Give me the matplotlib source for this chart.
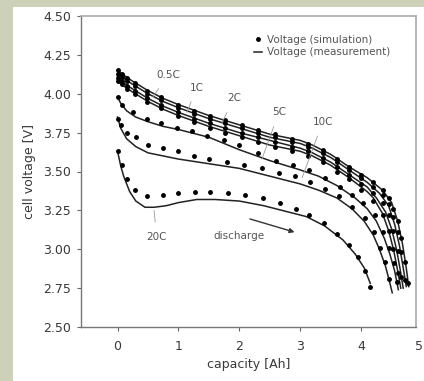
import matplotlib
matplotlib.use('Agg')
import matplotlib.pyplot as plt
from matplotlib.patches import Rectangle
from matplotlib.lines import Line2D
from matplotlib.transforms import offset_copy

plt.rcParams['font.family'] = ['DejaVu Sans']

# measured discharge curves (capacity [Ah], voltage [V])
cap_05c = [0, 0.1, 0.25, 0.5, 0.75, 1.0, 1.5, 2.0, 2.5, 3.0, 3.2, 3.5, 3.8, 4.1, 4.35, 4.5, 4.6, 4.68, 4.74, 4.78]
v_05c = [4.15, 4.12, 4.08, 4.02, 3.97, 3.93, 3.86, 3.80, 3.74, 3.70, 3.67, 3.61, 3.53, 3.46, 3.38, 3.30, 3.18, 3.03, 2.88, 2.76]
cap_1c = [0, 0.1, 0.25, 0.5, 0.75, 1.0, 1.5, 2.0, 2.5, 3.0, 3.2, 3.5, 3.8, 4.1, 4.3, 4.45, 4.55, 4.63, 4.69, 4.74]
v_1c = [4.13, 4.10, 4.06, 4.00, 3.95, 3.91, 3.84, 3.78, 3.72, 3.68, 3.65, 3.59, 3.51, 3.43, 3.36, 3.28, 3.16, 3.02, 2.88, 2.76]
cap_2c = [0, 0.1, 0.25, 0.5, 0.75, 1.0, 1.5, 2.0, 2.5, 3.0, 3.2, 3.5, 3.8, 4.1, 4.25, 4.4, 4.5, 4.58, 4.64, 4.69]
v_2c = [4.11, 4.07, 4.03, 3.97, 3.92, 3.88, 3.81, 3.75, 3.70, 3.65, 3.62, 3.56, 3.48, 3.40, 3.33, 3.24, 3.13, 3.00, 2.87, 2.75]
cap_3c = [0, 0.1, 0.25, 0.5, 0.75, 1.0, 1.5, 2.0, 2.5, 3.0, 3.2, 3.5, 3.8, 4.1, 4.2, 4.35, 4.45, 4.53, 4.6, 4.65]
v_3c = [4.08, 4.05, 4.01, 3.95, 3.90, 3.86, 3.79, 3.73, 3.67, 3.63, 3.60, 3.54, 3.46, 3.37, 3.33, 3.23, 3.12, 3.00, 2.86, 2.75]
cap_5c = [0, 0.05, 0.15, 0.3, 0.5, 0.75, 1.0, 1.5, 2.0, 2.5, 3.0, 3.3, 3.6, 3.9, 4.1, 4.25, 4.38, 4.47, 4.55, 4.61]
v_5c = [3.98, 3.94, 3.89, 3.85, 3.82, 3.79, 3.77, 3.72, 3.64, 3.57, 3.51, 3.47, 3.41, 3.33, 3.26, 3.18, 3.07, 2.97, 2.86, 2.74]
cap_10c = [0, 0.05, 0.15, 0.3, 0.5, 0.75, 1.0, 1.5, 2.0, 2.5, 3.0, 3.3, 3.6, 3.85, 4.05, 4.2, 4.3, 4.4, 4.46, 4.51]
v_10c = [3.85, 3.78, 3.71, 3.66, 3.62, 3.60, 3.58, 3.55, 3.52, 3.47, 3.42, 3.38, 3.33, 3.26, 3.18, 3.09, 3.00, 2.89, 2.80, 2.72]
cap_20c = [0, 0.05, 0.1, 0.2, 0.3, 0.45, 0.6, 0.8, 1.0, 1.3, 1.6, 2.0, 2.4, 2.8, 3.1, 3.4, 3.7, 3.9, 4.05, 4.15]
v_20c = [3.63, 3.54, 3.47, 3.37, 3.31, 3.27, 3.27, 3.28, 3.30, 3.32, 3.32, 3.31, 3.28, 3.24, 3.21, 3.15, 3.06, 2.97, 2.88, 2.78]

# simulated points
sim_cap_05c = [0, 0.07, 0.15, 0.28, 0.49, 0.72, 0.99, 1.25, 1.51, 1.77, 2.04, 2.3, 2.58, 2.86, 3.13, 3.37, 3.6, 3.8, 4.0, 4.2, 4.35, 4.45, 4.53, 4.6, 4.66, 4.72, 4.77]
sim_v_05c = [4.15, 4.13, 4.10, 4.07, 4.02, 3.98, 3.93, 3.89, 3.86, 3.83, 3.80, 3.77, 3.74, 3.71, 3.68, 3.64, 3.58, 3.53, 3.48, 3.43, 3.38, 3.33, 3.26, 3.18, 3.07, 2.92, 2.78]
sim_cap_1c = [0, 0.07, 0.15, 0.28, 0.49, 0.72, 0.99, 1.25, 1.51, 1.77, 2.04, 2.3, 2.58, 2.86, 3.13, 3.37, 3.6, 3.8, 4.0, 4.2, 4.35, 4.45, 4.53, 4.6, 4.66, 4.72]
sim_v_1c = [4.13, 4.11, 4.08, 4.05, 4.00, 3.96, 3.91, 3.87, 3.84, 3.81, 3.78, 3.75, 3.72, 3.69, 3.66, 3.62, 3.56, 3.51, 3.46, 3.40, 3.35, 3.29, 3.21, 3.11, 2.98, 2.80]
sim_cap_2c = [0, 0.07, 0.15, 0.28, 0.49, 0.72, 0.99, 1.25, 1.51, 1.77, 2.04, 2.3, 2.58, 2.86, 3.13, 3.37, 3.6, 3.8, 4.0, 4.2, 4.35, 4.45, 4.53, 4.6, 4.66]
sim_v_2c = [4.10, 4.08, 4.05, 4.02, 3.97, 3.93, 3.88, 3.84, 3.81, 3.78, 3.75, 3.72, 3.69, 3.66, 3.63, 3.59, 3.53, 3.48, 3.42, 3.36, 3.30, 3.22, 3.12, 2.99, 2.82]
sim_cap_3c = [0, 0.07, 0.15, 0.28, 0.49, 0.72, 0.99, 1.25, 1.51, 1.77, 2.04, 2.3, 2.58, 2.86, 3.13, 3.37, 3.6, 3.8, 4.0, 4.2, 4.35, 4.45, 4.53, 4.6]
sim_v_3c = [4.08, 4.06, 4.03, 4.00, 3.95, 3.91, 3.86, 3.82, 3.78, 3.75, 3.72, 3.69, 3.66, 3.63, 3.60, 3.56, 3.50, 3.45, 3.38, 3.31, 3.22, 3.12, 3.00, 2.85]
sim_cap_5c = [0, 0.08, 0.25, 0.49, 0.72, 0.97, 1.22, 1.47, 1.75, 2.0, 2.3, 2.6, 2.88, 3.14, 3.4, 3.65, 3.85, 4.03, 4.23, 4.36, 4.46, 4.54, 4.59]
sim_v_5c = [3.98, 3.93, 3.88, 3.84, 3.81, 3.78, 3.76, 3.73, 3.70, 3.67, 3.62, 3.57, 3.54, 3.51, 3.46, 3.40, 3.35, 3.30, 3.22, 3.11, 3.01, 2.91, 2.79]
sim_cap_10c = [0, 0.05, 0.15, 0.3, 0.5, 0.75, 1.0, 1.25, 1.5, 1.8, 2.07, 2.37, 2.65, 2.91, 3.16, 3.4, 3.63, 3.85, 4.07, 4.21, 4.31, 4.39, 4.46]
sim_v_10c = [3.84, 3.80, 3.75, 3.72, 3.67, 3.65, 3.63, 3.60, 3.58, 3.56, 3.54, 3.52, 3.49, 3.47, 3.43, 3.39, 3.34, 3.27, 3.20, 3.11, 3.01, 2.92, 2.81]
sim_cap_20c = [0, 0.07, 0.16, 0.28, 0.49, 0.74, 0.99, 1.27, 1.51, 1.81, 2.09, 2.39, 2.67, 2.93, 3.14, 3.39, 3.60, 3.80, 3.95, 4.07, 4.15]
sim_v_20c = [3.63, 3.54, 3.45, 3.38, 3.34, 3.35, 3.36, 3.37, 3.37, 3.36, 3.35, 3.33, 3.30, 3.26, 3.22, 3.17, 3.10, 3.03, 2.95, 2.86, 2.76]

measured = [(cap_05c, v_05c), (cap_1c, v_1c), (cap_2c, v_2c), (cap_3c, v_3c),
            (cap_5c, v_5c), (cap_10c, v_10c), (cap_20c, v_20c)]
simulated = [(sim_cap_05c, sim_v_05c), (sim_cap_1c, sim_v_1c), (sim_cap_2c, sim_v_2c),
             (sim_cap_3c, sim_v_3c), (sim_cap_5c, sim_v_5c), (sim_cap_10c, sim_v_10c),
             (sim_cap_20c, sim_v_20c)]

# rate labels: text, text position, leader end
rate_labels = ['0.5C', '1C', '2C', '5C', '10C', '20C']
label_pos = [(0.83, 4.12), (1.30, 4.04), (1.91, 3.97), (2.65, 3.88), (3.37, 3.82), (0.64, 3.08)]
leader_end = [(0.58, 3.98), (1.14, 3.88), (1.71, 3.81), (2.37, 3.58), (3.03, 3.46), (0.60, 3.25)]

yticks = [2.50, 2.75, 3.00, 3.25, 3.50, 3.75, 4.00, 4.25, 4.50]
xticks = [0, 1, 2, 3, 4]

txt = '#383838'
fig = plt.figure(figsize=(4.24, 3.81), dpi=100)
fig.patch.set_facecolor('#cdd1b9')
fig.patches.append(Rectangle((13 / 424, 0), 1, 1 - 7 / 381, transform=fig.transFigure,
                             facecolor='white', edgecolor='none', zorder=-5))
ax = fig.add_axes([81 / 424, 1 - 327 / 381, 335 / 424, 311 / 381])
ax.set_zorder(1)
ax.patch.set_alpha(0)

for c, v in measured:
    ax.plot(c, v, color='#222222', lw=1.1, zorder=2)
for c, v in simulated:
    ax.plot(c, v, ls='none', marker='o', ms=2.5, color='black', zorder=3)

for lab, (tx, ty), (ex, ey) in zip(rate_labels, label_pos, leader_end):
    ax.annotate(lab, xy=(ex, ey), xytext=(tx, ty), ha='center', va='center',
                fontsize=7.5, color='#555555',
                arrowprops=dict(arrowstyle='-', color='#999999', lw=0.6, shrinkA=5, shrinkB=0))

ax.annotate('', xy=(2.95, 3.105), xytext=(2.13, 3.20),
            arrowprops=dict(arrowstyle='-|>', color='#333333', lw=1.0, mutation_scale=7))
ax.text(2.0, 3.085, 'discharge', fontsize=7.5, color='#555555', ha='center', va='center')

handles = [Line2D([], [], ls='none', marker='o', ms=2.5, color='black'),
           Line2D([], [], color='#222222', lw=1.1)]
ax.legend(handles, ['Voltage (simulation)', 'Voltage (measurement)'], loc='upper right',
          bbox_to_anchor=(0.922, 0.94), frameon=False, fontsize=7.5, handlelength=0.8,
          handletextpad=0.4, labelspacing=0.25, borderpad=0, borderaxespad=0,
          labelcolor='#555555')

ax.set_xlim(-0.6, 4.9)
ax.set_ylim(2.5, 4.5)
ax.set_xticks(xticks)
ax.set_yticks(yticks)
ax.set_yticklabels(['%.2f' % t for t in yticks])
ax.tick_params(labelsize=9, colors='#666666', labelcolor=txt, length=3, width=0.8)
ax.tick_params(axis='x', pad=6)
ax.tick_params(axis='y', pad=4)
# last x tick label sits just outside the axis range, as in the original
ax.text(4.95, 2.5, '5', fontsize=9, color=txt, ha='center', va='top', clip_on=False,
        transform=offset_copy(ax.transData, fig=fig, y=-9, units='points'))
ax.set_xlabel('capacity [Ah]', fontsize=9, color=txt, labelpad=4)
ax.set_ylabel('cell voltage [V]', fontsize=9, color=txt, labelpad=5)

for s in ['left', 'bottom']:
    ax.spines[s].set_color('#777777')
    ax.spines[s].set_linewidth(1.0)
for s in ['top', 'right']:
    ax.spines[s].set_color('#aaaaaa')
    ax.spines[s].set_linewidth(1.2)

fig.savefig('out.png', dpi=100, facecolor=fig.get_facecolor())
